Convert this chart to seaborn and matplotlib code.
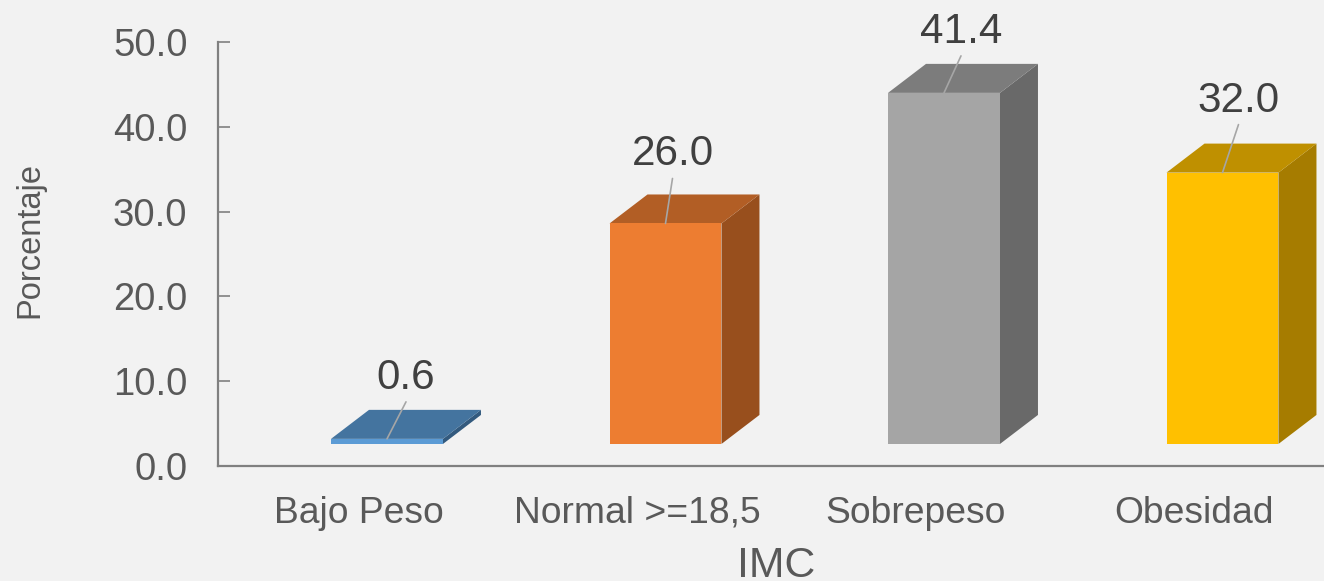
import matplotlib
matplotlib.use("Agg")
import matplotlib.pyplot as plt
from matplotlib.patches import Polygon
import seaborn as sns

categorias = ["Bajo Peso", "Normal >=18,5", "Sobrepeso", "Obesidad"]
porcentajes = [0.6, 26.0, 41.4, 32.0]
etiquetas = ["0.6", "26.0", "41.4", "32.0"]
yticks = [0, 10, 20, 30, 40, 50]

color_frente = ["#5B9BD5", "#ED7D31", "#A5A5A5", "#FFC000"]
color_techo = ["#44749F", "#B25E25", "#7C7C7C", "#BF9000"]
color_lado = ["#335A7E", "#984F1D", "#696969", "#A67C00"]

# leader line tip, pixels from the middle of each bar's front top edge
lider_dx = [19, 7, 17, 16]
lider_dy = [37, 45, 37, 48]

W, H = 1324, 581
sns.set_theme(style="white")
plt.rcParams["font.family"] = ["Liberation Sans", "DejaVu Sans"]

fig = plt.figure(figsize=(W / 100, H / 100), dpi=100, facecolor="#F2F2F2")
ax = fig.add_axes([218 / W, 1 - 466 / H, (W - 218) / W, 424 / H], facecolor="#F2F2F2")

base = 2.6
sns.barplot(x=categorias, y=porcentajes, hue=categorias, palette=color_frente,
            bottom=base, width=0.402, legend=False, saturation=1, linewidth=0,
            ax=ax, zorder=3)
ax.set_ylim(0, 50)
ax.set_xlim(-0.6068, 3.3645)

# fake 3d depth, same as the spreadsheet chart
dx = 38 / 278.5
dy = 29 / 8.48
for i, bar in enumerate(ax.patches[:4]):
    x0 = bar.get_x()
    x1 = x0 + bar.get_width()
    y0 = bar.get_y()
    y1 = y0 + bar.get_height()
    lado = Polygon([(x1, y0), (x1 + dx, y0 + dy), (x1 + dx, y1 + dy), (x1, y1)],
                   facecolor=color_lado[i], edgecolor="none", zorder=2)
    techo = Polygon([(x0, y1), (x0 + dx, y1 + dy), (x1 + dx, y1 + dy), (x1, y1)],
                    facecolor=color_techo[i], edgecolor="none", zorder=2)
    ax.add_patch(lado)
    ax.add_patch(techo)

    xm = x0 + bar.get_width() / 2
    ax.annotate("", xy=(xm, y1), xycoords="data",
                xytext=(lider_dx[i] * 0.72, lider_dy[i] * 0.72), textcoords="offset points",
                arrowprops=dict(arrowstyle="-", color="#A6A6A6", lw=1.2,
                                shrinkA=0, shrinkB=0), zorder=4, annotation_clip=False)
    ax.annotate(etiquetas[i], xy=(xm, y1), xycoords="data",
                xytext=(lider_dx[i] * 0.72, (lider_dy[i] + 24) * 0.72), textcoords="offset points",
                ha="center", va="center", fontsize=30.4, color="#404040",
                annotation_clip=False, zorder=5)

sns.despine(ax=ax, top=True, right=True)
for lado_eje in ["left", "bottom"]:
    ax.spines[lado_eje].set_color("#808080")
    ax.spines[lado_eje].set_linewidth(1.6)

ax.set_yticks(yticks)
ax.set_yticklabels([f"{v:.1f}" for v in yticks])
ax.tick_params(axis="y", direction="in", length=8.6, width=1.2, color="#808080",
               labelcolor="#595959", labelsize=27.5, pad=22, left=True)

ax.set_xticks([i - 0.102 for i in range(len(categorias))])
ax.set_xticklabels(categorias)
ax.tick_params(axis="x", length=0, labelcolor="#595959", labelsize=26.8, pad=21.5)

ax.set_xlabel("IMC", fontsize=30.8, color="#595959")
ax.xaxis.set_label_coords(0.505, -0.237)
ax.xaxis.label.set_verticalalignment("center")
ax.set_ylabel("Porcentaje", fontsize=23.5, color="#595959")
ax.yaxis.set_label_coords(-0.170, 0.533)
ax.yaxis.label.set_verticalalignment("center")

fig.savefig("out.png", dpi=100, facecolor=fig.get_facecolor())
